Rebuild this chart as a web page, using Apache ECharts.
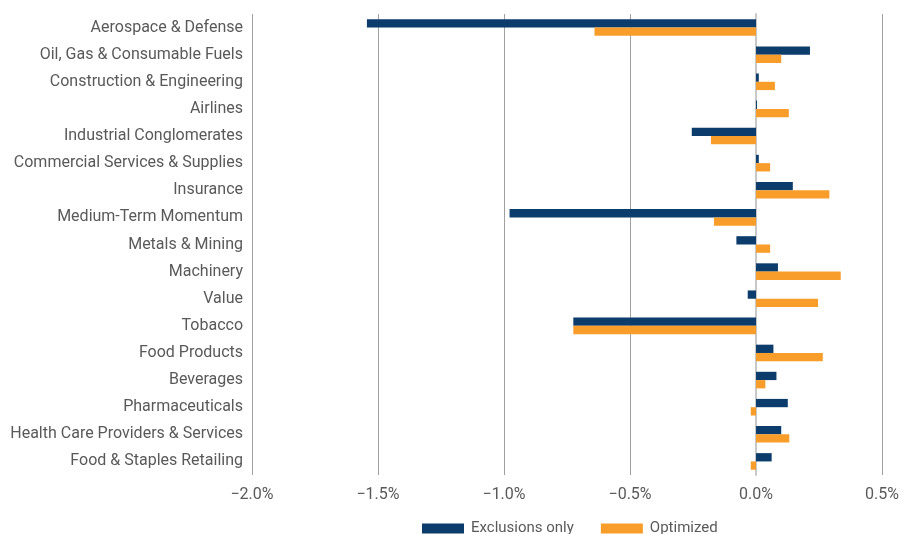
<!DOCTYPE html>
<html>
<head>
<meta charset="utf-8">
<script src="https://cdn.jsdelivr.net/npm/echarts@6/dist/echarts.min.js"></script>
<style>html,body{margin:0;padding:0;background:#fff}#c{width:902px;height:534px}</style>
</head>
<body>
<div id="c"></div>
<script>
const categories = [
  "Aerospace & Defense",
  "Oil, Gas & Consumable Fuels",
  "Construction & Engineering",
  "Airlines",
  "Industrial Conglomerates",
  "Commercial Services & Supplies",
  "Insurance",
  "Medium-Term Momentum",
  "Metals & Mining",
  "Machinery",
  "Value",
  "Tobacco",
  "Food Products",
  "Beverages",
  "Pharmaceuticals",
  "Health Care Providers & Services",
  "Food & Staples Retailing"
];
const exclusionsOnly = [-1.544, 0.214, 0.011, 0.004, -0.255, 0.011, 0.146, -0.978, -0.078, 0.087, -0.033, -0.725, 0.069, 0.081, 0.126, 0.100, 0.062];
const optimized      = [-0.641, 0.100, 0.075, 0.130, -0.179, 0.056, 0.291, -0.167, 0.056, 0.336, 0.246, -0.725, 0.265, 0.037, -0.021, 0.132, -0.021];
const seriesNames = ["Exclusions only", "Optimized"];
const axisMin = -2.0, axisMax = 0.5, axisStep = 0.5;

const fmt = v => (v < 0 ? "\u2212" : "") + Math.abs(v).toFixed(1) + "%";
const font = "Roboto";
const chart = echarts.init(document.getElementById('c'), null, {renderer: 'canvas'});
chart.setOption({
  animation: false,
  textStyle: {fontFamily: font},
  grid: {left: 252, right: 19, top: 14, bottom: 59, containLabel: false},
  legend: {
    top: 516, left: 417,
    itemWidth: 42, itemHeight: 10, itemGap: 27,
    icon: 'rect',
    textStyle: {fontFamily: font, fontSize: 15, color: '#595959', padding: [0, 0, 0, 2]},
    data: seriesNames
  },
  xAxis: {
    type: 'value', min: axisMin, max: axisMax, interval: axisStep,
    axisLine: {show: false}, axisTick: {show: false},
    axisLabel: {formatter: fmt, fontFamily: font, fontSize: 16, color: '#595959', margin: 12},
    splitLine: {show: true, lineStyle: {color: '#a0a0a0', width: 1}}
  },
  yAxis: {
    type: 'category', data: categories, inverse: true,
    axisLine: {show: true, onZero: true, lineStyle: {color: '#c8c8c8', width: 2}},
    axisTick: {show: false},
    axisLabel: {fontFamily: font, fontSize: 16, color: '#595959', margin: 9, align: 'right'}
  },
  series: [
    {name: seriesNames[0], type: 'bar', data: exclusionsOnly, barWidth: 8.3, barGap: '0%',
     itemStyle: {color: '#0b3c6b'}},
    {name: seriesNames[1], type: 'bar', data: optimized, barWidth: 8.3, barGap: '0%',
     itemStyle: {color: '#f99d2a'}}
  ]
});
</script>
</body>
</html>
